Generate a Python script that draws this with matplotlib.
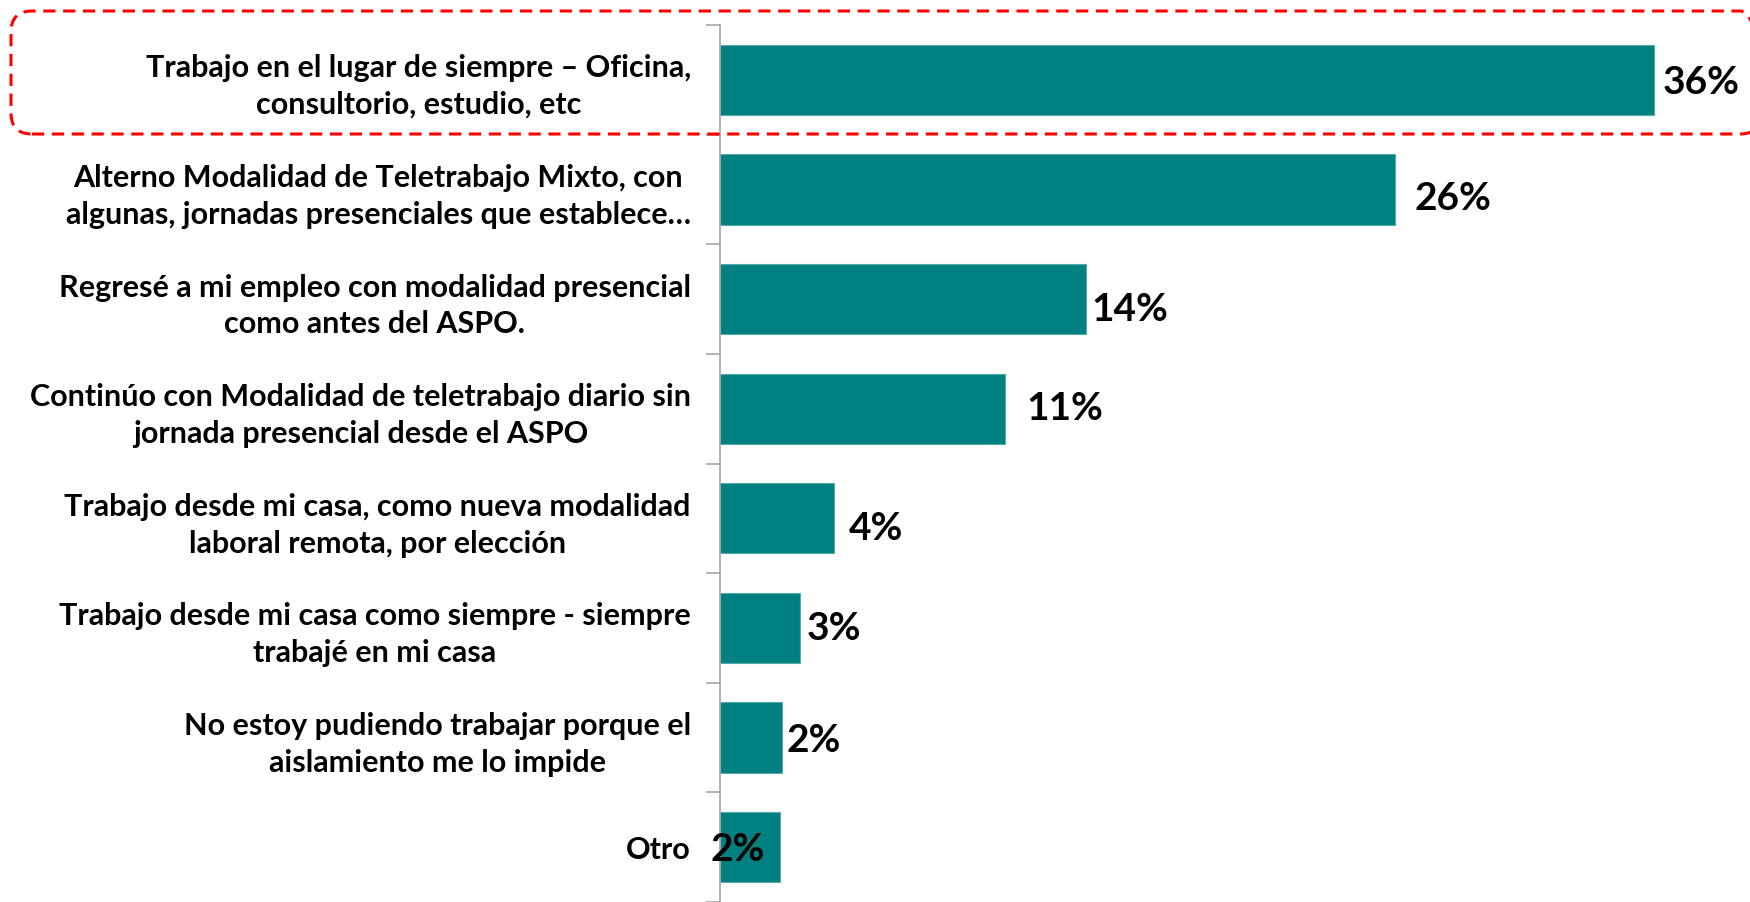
import numpy as np
import matplotlib.pyplot as plt
from matplotlib.patches import FancyBboxPatch

#-------------------- Data --------------------#
categories = [
    "Trabajo en el lugar de siempre \u2013 Oficina,\nconsultorio, estudio, etc",
    "Alterno Modalidad de Teletrabajo Mixto, con\nalgunas, jornadas presenciales que establece\u2026",
    "Regresé a mi empleo con modalidad presencial\ncomo antes del ASPO.",
    "Continúo con Modalidad de teletrabajo diario sin\njornada presencial desde el ASPO",
    "Trabajo desde mi casa, como nueva modalidad\nlaboral remota, por elección",
    "Trabajo desde mi casa como siempre - siempre\ntrabajé en mi casa",
    "No estoy pudiendo trabajar porque el\naislamiento me lo impide",
    "Otro",
]
values = [36.0, 26.0, 14.1, 11.0, 4.4, 3.1, 2.4, 2.3]
value_labels = ["36%", "26%", "14%", "11%", "4%", "3%", "2%", "2%"]

# label nudges in pixels (Excel labels were hand-moved)
label_dx = [9, 20, 6, 21, 15, 6, 4, -9]
label_dy = [-3, -9, -10, 0, -10, -1, -3, -2]

teal = "#008080"
font = "Lato"

#-------------------- Figure --------------------#
fig = plt.figure(figsize=(17.5, 9.02), dpi=100)
ax = fig.add_axes([720 / 1750, 0.0, 1 - 720 / 1750, 1 - 25 / 902])

y = np.arange(len(categories))
ax.barh(y, values, height=0.64, color=teal, edgecolor="#5aa9a9", linewidth=0.8, zorder=2)
ax.set_ylim(len(categories) - 0.5, -0.5)
ax.set_xlim(0, 39.7)

for i, (v, lab) in enumerate(zip(values, value_labels)):
    x0 = 0 if i == len(values) - 1 else v
    ax.annotate(lab, (x0, i), xytext=(label_dx[i], label_dy[i]),
                textcoords="offset pixels", ha="left", va="center",
                fontsize=28, fontweight="bold", family=font, color="black", zorder=3)

# axis styling
for s in ["top", "right", "bottom"]:
    ax.spines[s].set_visible(False)
ax.spines["left"].set_color("#a6a6a6")
ax.spines["left"].set_linewidth(1.2)
ax.set_xticks([])
ax.set_yticks(y)
ax.set_yticklabels(categories, fontsize=22, fontweight="bold", family=font,
                   multialignment="center", linespacing=1.38)
ax.tick_params(axis="y", which="major", length=0, pad=21)
ax.set_yticks(np.arange(-0.5, len(categories), 1.0), minor=True)
ax.tick_params(axis="y", which="minor", length=10, color="#a6a6a6", width=1.2)

# red dashed highlight box round the first row
box = FancyBboxPatch((11 / 1750, 1 - 134 / 902), 1.0, 123 / 902,
                     boxstyle="round,pad=0,rounding_size=0.012",
                     transform=fig.transFigure, fill=False, edgecolor="#ff0000",
                     linewidth=2.2, linestyle=(0, (4, 2.5)), clip_on=False,
                     mutation_aspect=1750 / 902)
fig.patches.append(box)

fig.savefig("out.png", dpi=100)
